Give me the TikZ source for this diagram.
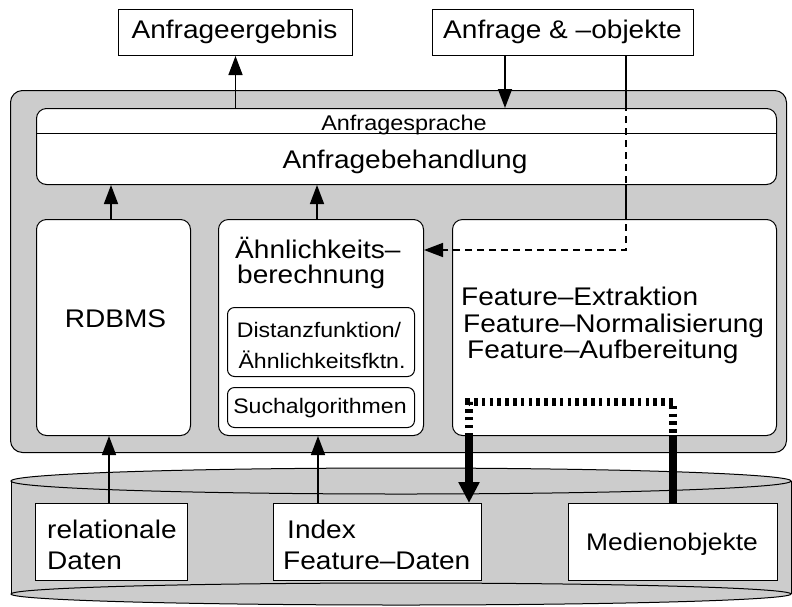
\documentclass[tikz,border=0pt]{standalone}
\usepackage{fontspec}
\setmainfont{Liberation Sans}[FakeStretch=1.1]
\usetikzlibrary{arrows.meta,calc}

\newcommand\lblfont{\fontsize{25.5}{30}\selectfont}
\newcommand\medfont{\fontsize{24}{28}\selectfont}
\newcommand\smlfont{\fontsize{21}{25}\selectfont}

\definecolor{panelgray}{gray}{0.8}

\tikzset{
  panel/.style={draw, fill=white, line width=1pt, inner sep=0pt, anchor=north west},
  rpanel/.style={panel, rounded corners=10pt},
  spanel/.style={panel, rounded corners=7pt},
  lbl/.style={inner sep=0pt, font=\lblfont},
  sml/.style={inner sep=0pt, font=\smlfont},
  arr/.style={line width=1.5pt, -{Triangle[length=19pt,width=14pt]}},
  dasharr/.style={line width=1.5pt, dash pattern=on 7pt off 5pt, -{Triangle[length=19pt,width=14pt]}},
  heavy/.style={line width=7.5pt},
  heavydot/.style={line width=7.5pt, dash pattern=on 3.5pt off 4.3pt, line join=miter},
  heavyarr/.style={line width=7.5pt, -{Triangle[length=21pt,width=20pt]}}
}

\begin{document}
\begin{tikzpicture}[x=1pt, y=-1pt]
\useasboundingbox (0,0) rectangle (792,606);

% storage cylinder
\fill[panelgray] (11,481) rectangle (791,594);
\draw[line width=1pt, fill=panelgray] (401,594) ellipse [x radius=390, y radius=11];
\draw[line width=1pt] (11,481) -- (11,594) (791,481) -- (791,594);
\draw[line width=1pt, fill=panelgray] (401,481) ellipse [x radius=390, y radius=13];

% system frame
\node[panel, fill=panelgray, rounded corners=12pt, minimum width=776pt, minimum height=362pt] (sys) at (10,90) {};

% top boxes
\node[panel, minimum width=234pt, minimum height=46pt] (res) at (118,9) {};
\node[panel, minimum width=261pt, minimum height=46pt] (query) at (432,9) {};

% solid part of the query-object line, hidden behind the white panels
\draw[line width=1.5pt] (query.south -| 626,0) -- (626,250);

% query processing
\node[rpanel, minimum width=740pt, minimum height=76pt] (qp) at (36,108) {};
\draw[line width=1pt] (qp.west |- 0,133) -- (qp.east |- 0,133);

% components
\node[rpanel, minimum width=154pt, minimum height=216pt] (rdbms) at (36,219) {};
\node[rpanel, minimum width=205pt, minimum height=216pt] (aehn) at (218,219) {};
\node[rpanel, minimum width=324pt, minimum height=216pt] (feat) at (452,219) {};
\node[spanel, minimum width=187pt, minimum height=69pt] (dist) at (227,307) {};
\node[spanel, minimum width=187pt, minimum height=40pt] (such) at (227,387) {};

% data stores
\node[panel, minimum width=152pt, minimum height=77pt] (rel) at (35,503) {};
\node[panel, minimum width=208pt, minimum height=77pt] (idx) at (273,503) {};
\node[panel, minimum width=209pt, minimum height=77pt] (med) at (568,503) {};

% labels
\node[lbl, anchor=base] (t-res) at (234.5,38) {Anfrageergebnis};
\node[lbl, anchor=base] (t-query) at (562.5,38) {Anfrage \& –objekte};
\node[inner sep=0pt, font=\fontsize{21.3}{25}\selectfont, anchor=base] (t-lang) at (404,130) {Anfragesprache};
\node[lbl, anchor=base] (t-qp) at (405,168) {Anfragebehandlung};
\node[lbl, anchor=base] (t-rdbms) at (115.5,327) {RDBMS};
\node[lbl, anchor=base west] (t-aehn1) at (235,258) {Ähnlichkeits–};
\node[lbl, anchor=base west] (t-aehn2) at (237,283) {berechnung};
\node[sml, anchor=base] (t-dist1) at (319,337) {Distanzfunktion/};
\node[sml, anchor=base] (t-dist2) at (322,368) {Ähnlichkeitsfktn.};
\node[sml, anchor=base] (t-such) at (320,413) {Suchalgorithmen};
\node[lbl, anchor=base west] (t-feat1) at (461,305) {Feature–Extraktion};
\node[lbl, anchor=base west] (t-feat2) at (463,332) {Feature–Normalisierung};
\node[lbl, anchor=base west] (t-feat3) at (467,358) {Feature–Aufbereitung};
\node[lbl, anchor=base west] (t-rel1) at (47,538) {relationale};
\node[lbl, anchor=base west] (t-rel2) at (47,569) {Daten};
\node[lbl, anchor=base west] (t-idx1) at (287,538) {Index};
\node[lbl, anchor=base west] (t-idx2) at (283,569) {Feature–Daten};
\node[inner sep=0pt, font=\medfont, anchor=base] (t-med) at (672,550) {Medienobjekte};

% connectors
\draw[arr] (qp.north -| res.south) -- (res.south);
\draw[arr] (query.south -| 505,0) -- (qp.north -| 505,0);
\draw[arr] (rdbms.north -| 111,0) -- (qp.south -| 111,0);
\draw[arr] (aehn.north -| 317,0) -- (qp.south -| 317,0);
\draw[arr] (rel.north -| 109,0) -- (rdbms.south -| 109,0);
\draw[arr] (idx.north -| 318,0) -- (aehn.south -| 318,0);

\coordinate (bend) at (626,250);
\draw[dasharr] (query.south -| bend) -- (bend) -- (aehn.east |- bend);

\coordinate (fl) at (469,402);
\coordinate (fr) at (673,402);
\draw[heavydot] (feat.south -| fl) -- (fl) -- (fr) -- (feat.south -| fr);
\draw[heavyarr] (feat.south -| fl) -- (idx.north -| fl);
\draw[heavy] (feat.south -| fr) -- (med.north -| fr);
\end{tikzpicture}
\end{document}
